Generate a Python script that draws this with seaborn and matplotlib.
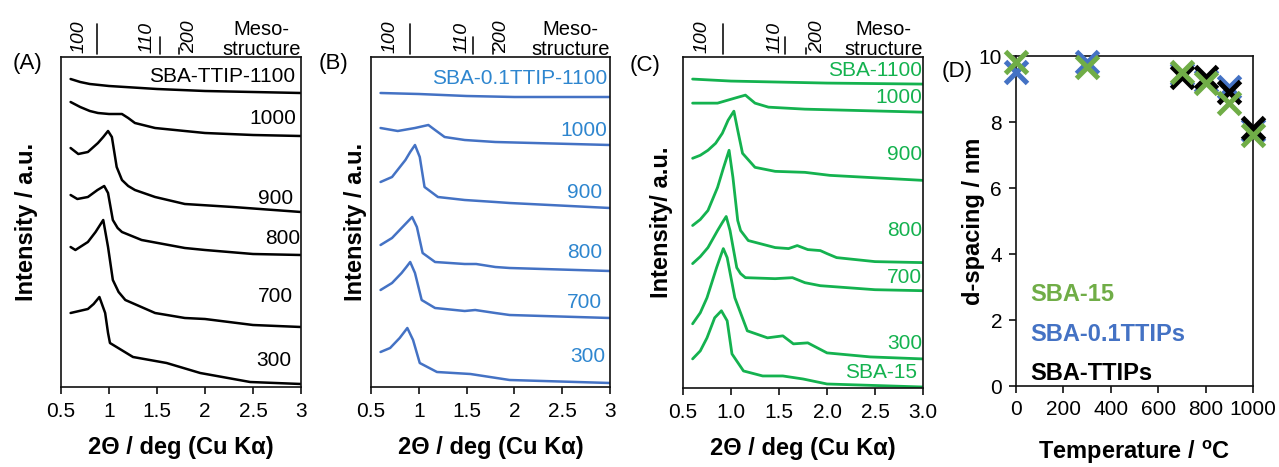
import matplotlib
matplotlib.use("Agg")
import matplotlib.pyplot as plt
import seaborn as sns

# ---------------- data ----------------
# x: 2-theta (deg); y: stacked intensity (a.u., offset included)
# Panel A: SBA-TTIP
a_names = ["SBA-TTIP-1100", "1000", "900", "800", "700", "300"]
a_x = [
    [0.6, 0.7, 0.8, 1.0, 1.5, 2.0, 2.5, 3.0],
    [0.6, 0.7, 0.8, 0.885, 1.0, 1.135, 1.2, 1.27, 1.48, 1.79, 2.0, 2.5, 3.0],
    [0.6, 0.68, 0.78, 0.885, 0.94, 0.99, 1.03, 1.08, 1.135, 1.2, 1.27, 1.48, 1.79, 2.29, 3.0],
    [0.6, 0.67, 0.78, 0.88, 0.95, 0.99, 1.04, 1.09, 1.135, 1.34, 1.79, 2.0, 2.5, 3.0],
    [0.6, 0.65, 0.78, 0.86, 0.94, 0.99, 1.04, 1.1, 1.17, 1.48, 1.79, 2.0, 2.5, 3.0],
    [0.6, 0.78, 0.84, 0.90, 0.96, 0.99, 1.01, 1.25, 1.6, 1.95, 2.47, 3.0],
]
a_y = [
    [308, 305, 303, 301, 298, 296, 295, 294],
    [285, 280, 276, 274, 273, 273, 269, 264, 259, 256, 254, 252, 251],
    [239, 233, 235, 244, 250, 256, 250, 220, 207, 201, 197, 190, 183, 180, 175],
    [192, 188, 190, 197, 201, 194, 167, 159, 155, 147, 139, 137, 133, 132],
    [140, 137, 145, 155, 167, 140, 107, 95, 87, 74, 69, 68, 62, 60],
    [74, 78, 83, 90, 74, 54, 44, 30, 24, 14, 5, 3],
]

# Panel B: SBA-0.1TTIP
b_names = ["SBA-0.1TTIP-1100", "1000", "900", "800", "700", "300"]
b_x = [
    [0.6, 1.0, 1.5, 2.0, 3.0],
    [0.6, 0.78, 0.96, 1.10, 1.17, 1.27, 1.48, 1.8, 3.0],
    [0.6, 0.72, 0.86, 0.91, 0.96, 1.01, 1.06, 1.2, 1.48, 1.8, 1.95, 3.0],
    [0.6, 0.72, 0.82, 0.88, 0.93, 0.98, 1.04, 1.17, 1.48, 1.6, 1.8, 1.95, 3.0],
    [0.6, 0.72, 0.82, 0.87, 0.91, 0.96, 1.03, 1.17, 1.48, 1.59, 1.8, 1.95, 3.0],
    [0.6, 0.7, 0.8, 0.88, 0.94, 1.01, 1.19, 1.54, 1.95, 3.0],
]
b_y = [
    [294, 293, 291, 290, 290],
    [259, 256, 259, 262, 257, 250, 247, 245, 242],
    [205, 210, 227, 235, 242, 230, 200, 190, 187, 185, 184, 179],
    [142, 149, 159, 165, 170, 160, 134, 125, 123, 123, 120, 119, 116],
    [97, 104, 114, 120, 125, 114, 87, 79, 76, 77, 74, 72, 69],
    [35, 39, 49, 59, 47, 24, 15, 13, 7, 4],
]

# Panel C: SBA-15
c_names = ["SBA-1100", "1000", "900", "800", "700", "300", "SBA-15"]
c_x = [
    [0.6, 0.8, 1.0, 2.0, 3.0],
    [0.6, 0.86, 1.04, 1.15, 1.25, 1.39, 1.77, 3.0],
    [0.6, 0.68, 0.76, 0.84, 0.91, 0.97, 1.03, 1.07, 1.12, 1.25, 1.46, 1.77, 2.03, 3.0],
    [0.6, 0.68, 0.76, 0.86, 0.92, 0.98, 1.02, 1.07, 1.1, 1.18, 1.46, 1.6, 1.69, 1.8, 1.93, 2.0, 2.1, 2.5, 3.0],
    [0.6, 0.68, 0.76, 0.86, 0.91, 0.95, 0.99, 1.06, 1.1, 1.15, 1.46, 1.64, 1.77, 1.93, 2.5, 3.0],
    [0.6, 0.68, 0.75, 0.85, 0.89, 0.92, 0.96, 1.04, 1.17, 1.38, 1.54, 1.65, 1.8, 2.0, 2.45, 3.0],
    [0.6, 0.68, 0.75, 0.83, 0.87, 0.9, 0.96, 1.01, 1.13, 1.33, 1.54, 1.75, 2.0, 3.0],
]
c_y = [
    [308, 307, 306, 304, 303],
    [284, 284, 289, 292, 284, 280, 278, 275],
    [229, 232, 237, 244, 254, 267, 276, 257, 234, 220, 216, 215, 212, 207],
    [162, 168, 177, 200, 219, 237, 210, 167, 157, 147, 140, 139, 142, 138, 137, 134, 130, 126, 125],
    [124, 131, 140, 157, 165, 171, 157, 120, 114, 110, 109, 110, 105, 102, 98, 97],
    [64, 75, 90, 120, 131, 139, 130, 90, 57, 50, 52, 44, 45, 35, 31, 29],
    [29, 37, 50, 70, 74, 77, 67, 34, 17, 12, 12, 9, 4, 1],
]

# Mesostructure reflections (peak positions, deg)
hkl = ["100", "110", "200"]
a_hkl_pos = [0.88, 1.53, 1.73]
b_hkl_pos = [0.91, 1.57, 1.78]
c_hkl_pos = [0.92, 1.56, 1.78]

# Panel D: d-spacing vs temperature
t_sba15 = [0, 300, 700, 800, 900, 1000]
d_sba15 = [9.83, 9.68, 9.52, 9.17, 8.57, 7.60]
t_sba01 = [0, 300, 700, 800, 900, 1000]
d_sba01 = [9.52, 9.83, 9.45, 9.25, 9.07, 7.75]
t_sbatt = [700, 800, 900, 1000]
d_sbatt = [9.37, 9.37, 8.92, 7.81]
d_series = ["SBA-15", "SBA-0.1TTIPs", "SBA-TTIPs"]

ab_ticklabels = ["0.5", "1", "1.5", "2", "2.5", "3"]
c_ticklabels = ["0.5", "1.0", "1.5", "2.0", "2.5", "3.0"]

# ---------------- style ----------------
sns.set_style("ticks")
plt.rcParams["font.family"] = ["Liberation Sans", "DejaVu Sans"]
plt.rcParams["mathtext.fontset"] = "custom"
plt.rcParams["mathtext.rm"] = "Liberation Sans"
plt.rcParams["mathtext.bf"] = "Liberation Sans:bold"
for key in ("text.color", "axes.labelcolor", "xtick.color", "ytick.color", "axes.edgecolor"):
    plt.rcParams[key] = "black"

BLACK = "#000000"
BLUE_LINE = "#4472C4"
BLUE_TEXT = "#2E86CF"
GREEN_LINE = "#14B24F"
GREEN_D = "#70AD47"

W, H = 1279, 467
fig = plt.figure(figsize=(W / 100, H / 100), dpi=100)
fig.patch.set_facecolor("white")


def px_axes(l, t, r, b):
    return fig.add_axes([l / W, 1 - b / H, (r - l) / W, (b - t) / H])


axA = px_axes(61, 57, 301, 387)
axB = px_axes(371, 57, 610, 387)
axC = px_axes(683, 57, 923, 388)
axD = px_axes(1016, 56, 1253, 386)

for ax in (axA, axB, axC, axD):
    for sp in ax.spines.values():
        sp.set_visible(True)
        sp.set_linewidth(1.2)
        sp.set_color("#111111")


def xrd_panel(ax, xs, ys, names, lab_x, lab_y, lcolor, tcolor, lw,
              ticklabels, hkl_pos, hkl_text_x, ylabel, ylab_x):
    for x, y in zip(xs, ys):
        sns.lineplot(x=x, y=y, ax=ax, color=lcolor, lw=lw,
                     estimator=None, sort=False, legend=False)
    for name, lx, ly in zip(names, lab_x, lab_y):
        ax.text(lx, ly, name, color=tcolor, fontsize=15, ha="right", va="center")
    ax.set_xlim(0.5, 3.0)
    ax.set_ylim(0, 330)
    ax.set_xticks([0.5, 1.0, 1.5, 2.0, 2.5, 3.0])
    ax.set_xticklabels(ticklabels)
    ax.set_yticks([])
    ax.tick_params(axis="x", length=5, width=1.2, labelsize=15, pad=6,
                   direction="out", color="#111111")
    ax.set_xlabel("2Θ / deg (Cu Kα)", fontsize=17, fontweight="bold")
    ax.xaxis.set_label_coords(0.5, -0.147)
    ax.set_ylabel(ylabel, fontsize=17, fontweight="bold")
    ax.yaxis.set_label_coords(ylab_x, 0.5)
    # mesostructure reflection marks
    tr = ax.get_xaxis_transform()
    tops = [1.10, 1.061, 1.027]
    for pos, top in zip(hkl_pos, tops):
        ax.plot([pos, pos], [1.009, top], transform=tr, color="#111111",
                lw=1.2, clip_on=False)
    for lab, tx in zip(hkl, hkl_text_x):
        ax.text(tx, 1.012, lab, transform=tr, rotation=90, style="italic",
                fontsize=14, ha="center", va="bottom")
    ax.text(1.0, 0.994, "Meso-\nstructure", transform=ax.transAxes,
            ha="right", va="bottom", ma="center", fontsize=14.5, linespacing=1.05)


xrd_panel(axA, a_x, a_y, a_names,
          [2.94, 2.95, 2.92, 2.99, 2.92, 2.90],
          [311, 268, 188, 149, 90, 27],
          BLACK, BLACK, 1.8, ab_ticklabels, a_hkl_pos, [0.69, 1.40, 1.84],
          "Intensity / a.u.", -0.096)
xrd_panel(axB, b_x, b_y, b_names,
          [2.97, 2.97, 2.92, 2.92, 2.92, 2.95],
          [308, 257, 195, 134, 85, 31],
          BLUE_LINE, BLUE_TEXT, 1.8, ab_ticklabels, b_hkl_pos, [0.70, 1.45, 1.87],
          "Intensity / a.u.", -0.015)
xrd_panel(axC, c_x, c_y, c_names,
          [2.99, 2.99, 2.99, 2.99, 2.99, 2.99, 2.94],
          [317, 290, 233, 157, 110, 44, 15],
          GREEN_LINE, GREEN_LINE, 2.0, c_ticklabels, c_hkl_pos, [0.70, 1.46, 1.90],
          "Intensity/ a.u.", -0.042)

# Panel D
for t, d, col in ((t_sba01, d_sba01, BLUE_LINE),
                  (t_sbatt, d_sbatt, BLACK),
                  (t_sba15, d_sba15, GREEN_D)):
    sns.scatterplot(x=t, y=d, ax=axD, marker="x", s=250, color=col,
                    linewidth=3.6, clip_on=False, zorder=3, legend=False)
axD.set_xlim(0, 1000)
axD.set_ylim(0, 10)
axD.set_xticks([0, 200, 400, 600, 800, 1000])
axD.set_yticks([0, 2, 4, 6, 8, 10])
axD.tick_params(axis="both", length=5, width=1.2, labelsize=15, pad=5,
                direction="out", color="#111111")
axD.set_xlabel(r"Temperature / $\mathbf{^{o}}$C", fontsize=17, fontweight="bold")
axD.xaxis.set_label_coords(0.5, -0.159)
axD.set_ylabel("d-spacing / nm", fontsize=17, fontweight="bold")
axD.yaxis.set_label_coords(-0.131, 0.5)
for name, col, yy in zip(d_series, (GREEN_D, BLUE_LINE, BLACK), (0.276, 0.155, 0.039)):
    axD.text(0.059, yy, name, color=col, fontsize=17, fontweight="bold",
             transform=axD.transAxes, ha="left", va="center")

# Panel letters
for lab, (px, py) in zip(["(A)", "(B)", "(C)", "(D)"],
                         [(27, 63), (333, 63), (645, 66), (957, 72)]):
    fig.text(px / W, 1 - py / H, lab, fontsize=16, ha="center", va="center")

fig.savefig("out.png", dpi=100, facecolor="white")
